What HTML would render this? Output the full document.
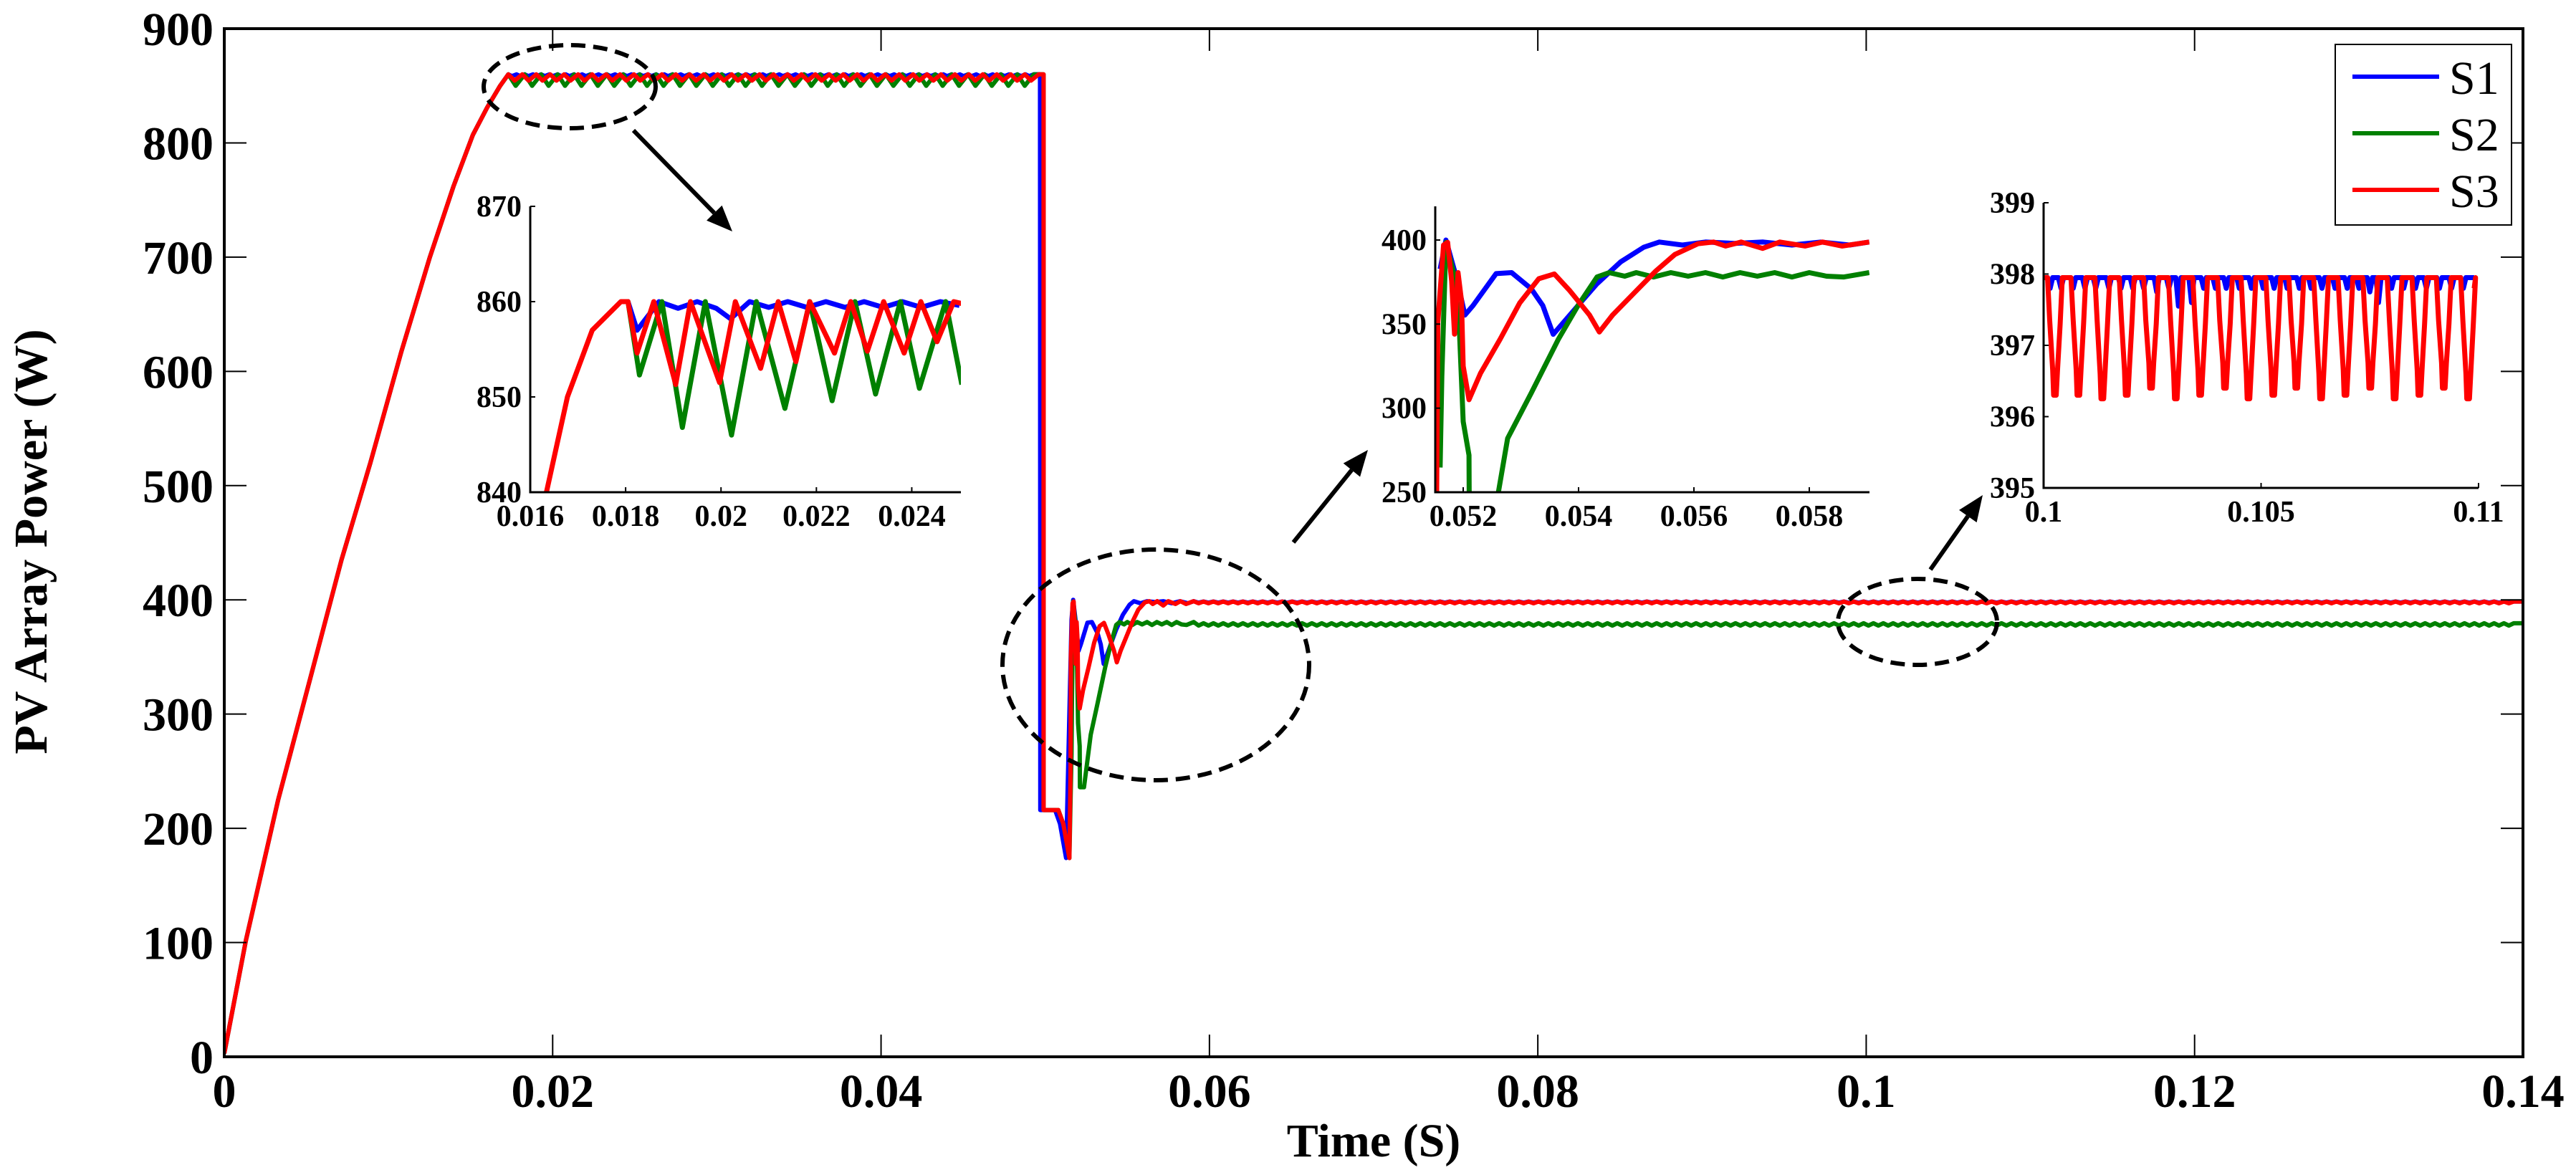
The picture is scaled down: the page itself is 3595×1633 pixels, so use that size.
<!DOCTYPE html>
<html><head><meta charset="utf-8">
<style>
html,body{margin:0;padding:0;background:#fff;}
svg{display:block;}
text{font-family:"Liberation Serif","DejaVu Serif",serif;font-weight:bold;fill:#000;}
</style></head>
<body>
<svg id="chart" width="3595" height="1633" viewBox="0 0 3595 1633" xmlns="http://www.w3.org/2000/svg">
<defs>
<clipPath id="clipMain"><rect x="313" y="40" width="3208" height="1435"/></clipPath>
<clipPath id="clipI1"><rect x="740" y="283" width="601" height="404"/></clipPath>
<clipPath id="clipI2"><rect x="2003" y="283" width="606" height="404"/></clipPath>
<clipPath id="clipI3"><rect x="2852" y="280" width="608" height="403"/></clipPath>
</defs>
<g id="root"></g>
</svg>
<script>
// ---------- DATA ----------
const mainXTicks = [0, 0.02, 0.04, 0.06, 0.08, 0.1, 0.12, 0.14];
const mainXTickLabels = ["0", "0.02", "0.04", "0.06", "0.08", "0.1", "0.12", "0.14"];
const mainYTicks = [0, 100, 200, 300, 400, 500, 600, 700, 800, 900];
const mainYTickLabels = ["0", "100", "200", "300", "400", "500", "600", "700", "800", "900"];
const seriesNames = ["S1", "S2", "S3"];
const seriesColors = ["#0000ff", "#008000", "#ff0000"];

// start-up ramp (shared by all series)
const rampT = [0, 0.00132, 0.00328, 0.00525, 0.00714, 0.0089, 0.01078, 0.01252, 0.01396, 0.01514, 0.01601, 0.0168, 0.0173];
const rampP = [3, 102, 225, 332, 435, 520, 617, 700, 762, 807, 831, 850, 860];
// plateau MPPT ripple: level, dip minimum, dip period (s)
const plateauLevel = [860, 860, 860];
const plateauDip = [858.5, 850, 854.5];
const plateauPeriod = [0.0005, 0.001, 0.00085];
const plateauEnd = [0.04968, 0.0499, 0.0499];
// fault transient after step (main view)
const faultT = [0.0499, 0.0508, 0.0511, 0.05147];
const faultP = [216, 216, 204, 174];
// steady state level
const steadyLevel = [398.5, 379.5, 398.5];
const steadyDip = [397.5, 377.5, 397];

// inset 1 (0.016-0.025, 840-870)
const in1XTicks = [0.016, 0.018, 0.02, 0.022, 0.024];
const in1XTickLabels = ["0.016", "0.018", "0.02", "0.022", "0.024"];
const in1YTicks = [840, 850, 860, 870];
const in1YTickLabels = ["840", "850", "860", "870"];
const in1RedT = [0.01634, 0.01678, 0.0173, 0.0179, 0.01805, 0.01824, 0.01859, 0.01905, 0.01936, 0.01997, 0.0203, 0.02083, 0.0212, 0.02157, 0.02186, 0.02238, 0.02272, 0.02307, 0.02341, 0.02384, 0.02419, 0.02453, 0.02488, 0.02505];
const in1RedP = [840, 850, 857, 860, 860, 854.6, 860, 851.3, 860, 851.5, 860, 853, 860, 853.7, 860, 854.6, 860, 854.8, 860, 854.6, 860, 855.8, 860, 859.8];
const in1GreenT = [0.0179, 0.01805, 0.01829, 0.01876, 0.01919, 0.01967, 0.02022, 0.02074, 0.02134, 0.02186, 0.02233, 0.02281, 0.02324, 0.02376, 0.02416, 0.02471, 0.02505];
const in1GreenP = [860, 860, 852.3, 860, 846.8, 860, 846, 860, 848.8, 860, 849.6, 860, 850.3, 860, 850.9, 860, 851.3];
const in1BlueT = [0.0179, 0.01805, 0.01824, 0.0187, 0.0191, 0.0195, 0.0199, 0.0202, 0.0206, 0.021, 0.0214, 0.0218, 0.0222, 0.0226, 0.023, 0.0234, 0.0238, 0.0242, 0.0246, 0.025];
const in1BlueP = [860, 860, 857, 860, 859.3, 860, 859.3, 858.2, 860, 859.4, 860, 859.4, 860, 859.4, 860, 859.4, 860, 859.4, 860, 859.6];

// inset 2 (0.0515-0.059, 250-420)
const in2XTicks = [0.052, 0.054, 0.056, 0.058];
const in2XTickLabels = ["0.052", "0.054", "0.056", "0.058"];
const in2YTicks = [250, 300, 350, 400];
const in2YTickLabels = ["250", "300", "350", "400"];
const in2BlueT = [0.0516, 0.0517, 0.0519, 0.05203, 0.05217, 0.05257, 0.05284, 0.05318, 0.05338, 0.05356, 0.05399, 0.05432, 0.05473, 0.05513, 0.0554, 0.0558, 0.0562, 0.0567, 0.0572, 0.0577, 0.0582, 0.0587, 0.05904];
const in2BlueP = [382.7, 400, 375.5, 355.4, 361, 380, 380.6, 371, 361, 343.9, 361, 374, 387, 395.7, 398.8, 397, 398.8, 398, 398.8, 397, 398.8, 397, 398.8];
const in2RedT = [0.05154, 0.05156, 0.05166, 0.05173, 0.0518, 0.05185, 0.05191, 0.05197, 0.052, 0.0521, 0.0523, 0.05264, 0.05298, 0.05331, 0.05358, 0.05385, 0.05419, 0.05436, 0.05459, 0.055, 0.05533, 0.05567, 0.05607, 0.05634, 0.05655, 0.05682, 0.05719, 0.05749, 0.05793, 0.05823, 0.05857, 0.05904];
const in2RedP = [250, 351, 397, 398.6, 375.5, 344, 380.6, 364, 325, 305, 320.8, 341, 362.6, 377, 379.8, 369.8, 355.4, 345.3, 355.4, 369.8, 381.3, 391.4, 397.8, 398.8, 396.4, 398.8, 395, 398.8, 396.4, 398.8, 396.4, 398.8];
const in2GreenT = [0.0516, 0.05163, 0.0517, 0.05183, 0.05193, 0.052, 0.0521, 0.05211, 0.05236, 0.05277, 0.05318, 0.05365, 0.05399, 0.05432, 0.05453, 0.0548, 0.055, 0.0553, 0.0556, 0.0559, 0.0562, 0.0565, 0.0568, 0.0571, 0.0574, 0.0577, 0.058, 0.0583, 0.0586, 0.05904];
const in2GreenP = [264.7, 319, 398.6, 381, 349.6, 292, 272, 200, 200, 282, 309, 341, 361, 378, 380.6, 378.5, 380.6, 378, 380.6, 378.5, 380.6, 378, 380.6, 378.5, 380.6, 378, 380.6, 378.5, 378, 380.6];

// inset 3 (0.1-0.11, 395-399)
const in3XTicks = [0.1, 0.105, 0.11];
const in3XTickLabels = ["0.1", "0.105", "0.11"];
const in3YTicks = [395, 396, 397, 398, 399];
const in3YTickLabels = ["395", "396", "397", "398", "399"];
const in3RedDipT = [0.10026, 0.1008, 0.10135, 0.10191, 0.10247, 0.10304, 0.1036, 0.10417, 0.10471, 0.10528, 0.10581, 0.10638, 0.10694, 0.10751, 0.10807, 0.10864, 0.1092, 0.10976];
const in3RedDipP = [396.3, 396.3, 396.25, 396.3, 396.4, 396.25, 396.3, 396.4, 396.25, 396.3, 396.4, 396.25, 396.3, 396.4, 396.25, 396.3, 396.4, 396.25];
const in3BlueDipT = [0.10015, 0.1004, 0.10068, 0.10095, 0.1012, 0.1015, 0.10178, 0.10205, 0.1023, 0.1026, 0.10288, 0.1031, 0.1034, 0.10368, 0.10395, 0.1042, 0.1045, 0.10478, 0.10505, 0.1053, 0.1056, 0.10588, 0.10615, 0.1064, 0.1067, 0.10698, 0.10725, 0.1075, 0.1077, 0.108, 0.10828, 0.10855, 0.1088, 0.1091, 0.10938, 0.10965];
const in3BlueDipP = [397.8, 397.8, 397.8, 397.8, 397.8, 397.8, 397.8, 397.8, 397.8, 397.75, 397.8, 397.55, 397.6, 397.8, 397.8, 397.8, 397.8, 397.8, 397.8, 397.8, 397.8, 397.8, 397.8, 397.8, 397.8, 397.8, 397.8, 397.75, 397.6, 397.8, 397.8, 397.8, 397.8, 397.8, 397.8, 397.8];

// ---------- HELPERS ----------
const NS = "http://www.w3.org/2000/svg";
const root = document.getElementById("root");
function mk(tag, attrs, parent) {
  const e = document.createElementNS(NS, tag);
  for (const k in attrs) e.setAttribute(k, attrs[k]);
  (parent || root).appendChild(e);
  return e;
}
function lin(d0, d1, r0, r1) { return v => r0 + (v - d0) / (d1 - d0) * (r1 - r0); }

// main axes
const mx = lin(0, 0.14, 313, 3521);
const my = lin(0, 900, 1475, 40);
// inset axes
const i1x = lin(0.016, 0.025, 740, 1339), i1y = lin(840, 870, 687, 288);
const i2x = lin(0.052, 0.058, 2042, 2525), i2y = lin(250, 400, 687, 335);
const i3x = lin(0.1, 0.11, 2852, 3459), i3y = lin(395, 399, 681, 283);

function pathFrom(ts, ps, sx, sy) {
  let d = "";
  for (let i = 0; i < ts.length; i++) d += (i ? "L" : "M") + sx(ts[i]).toFixed(1) + "," + sy(ps[i]).toFixed(1);
  return d;
}

// ---------- MAIN SERIES ----------
const gMain = mk("g", {"clip-path": "url(#clipMain)"});


const transientT = [in2BlueT, in2GreenT, in2RedT];
const transientP = [in2BlueP, in2GreenP, in2RedP];
for (let s = 0; s < 3; s++) {
  let T = rampT.slice(), P = rampP.slice();
  // plateau ripple
  let t = rampT[rampT.length - 1];
  const per = plateauPeriod[s];
  while (t + per < plateauEnd[s]) {
    T.push(t + per * 0.45); P.push(plateauDip[s]);
    T.push(t + per); P.push(plateauLevel[s]);
    t += per;
  }
  T.push(plateauEnd[s]); P.push(plateauLevel[s]);
  for (let i = 0; i < faultT.length; i++) { T.push(faultT[i] + (s === 0 ? -0.0002 : 0)); P.push(faultP[i]); }
  const tt = transientT[s], tp = transientP[s];
  for (let i = 0; i < tt.length; i++) { T.push(tt[i]); P.push(Math.max(tp[i], s === 1 && i > 5 && i < 10 ? 236 : tp[i])); }
  // steady state
  let ts = tt[tt.length - 1];
  const sp = 0.0006;
  while (ts + sp < 0.14) {
    T.push(ts + sp * 0.5); P.push(steadyDip[s]);
    T.push(ts + sp); P.push(steadyLevel[s]);
    ts += sp;
  }
  T.push(0.14); P.push(steadyLevel[s]);
  const p = mk("path", {d: pathFrom(T, P, mx, my), fill: "none", stroke: seriesColors[s], "stroke-width": 6, "stroke-linejoin": "round"}, gMain);
  
  
}

// ---------- MAIN AXES ----------
const frame = mk("rect", {x: 313, y: 40, width: 3208, height: 1435, fill: "none", stroke: "#000", "stroke-width": 4});


for (let i = 0; i < mainXTicks.length; i++) {
  const x = mx(mainXTicks[i]);
  const tk = mk("path", {d: `M${x},1475V1444M${x},40V71`, stroke: "#000", "stroke-width": 2});
  
  
  const lb = mk("text", {x: x, y: 1545, "font-size": 66, "text-anchor": "middle"});
  
  
  lb.textContent = mainXTickLabels[i];
}
for (let i = 0; i < mainYTicks.length; i++) {
  const y = my(mainYTicks[i]);
  const tk = mk("path", {d: `M313,${y}H344M3521,${y}H3490`, stroke: "#000", "stroke-width": 2});
  
  
  const lb = mk("text", {x: 298, y: y + 23, "font-size": 66, "text-anchor": "end"});
  
  
  lb.textContent = mainYTickLabels[i];
}
const xt = mk("text", {x: 1917, y: 1614, "font-size": 66, "text-anchor": "middle"});


xt.textContent = "Time (S)";
const yt = mk("text", {x: 0, y: 0, "font-size": 66, "text-anchor": "middle", transform: "translate(65,756) rotate(-90)"});


yt.textContent = "PV Array Power (W)";

// ---------- INSETS ----------
function inset(name, clip, sx, sy, x0, x1, y0, y1, xTicks, xLabels, yTicks, yLabels, lines) {
  const g = mk("g", {});
  
  
  const bg = mk("rect", {x: x0, y: y1, width: x1 - x0, height: y0 - y1, fill: "#fff"}, g);
  
  
  const lg = mk("g", {"clip-path": "url(#" + clip + ")"}, g);
  for (const L of lines) {
    const p = mk("path", {d: pathFrom(L.t, L.p, sx, sy), fill: "none", stroke: L.c, "stroke-width": 7, "stroke-linejoin": "round"}, lg);
    
    
  }
  const ax = mk("path", {d: `M${x0},${y1}V${y0}H${x1}`, fill: "none", stroke: "#000", "stroke-width": 3}, g);
  
  
  for (let i = 0; i < xTicks.length; i++) {
    const x = sx(xTicks[i]);
    const tk = mk("path", {d: `M${x},${y0}V${y0 - 7}`, stroke: "#000", "stroke-width": 2}, g);
    
    
    const lb = mk("text", {x: x, y: y0 + 47, "font-size": 42, "text-anchor": "middle"}, g);
    
    
    lb.textContent = xLabels[i];
  }
  for (let i = 0; i < yTicks.length; i++) {
    const y = sy(yTicks[i]);
    const tk = mk("path", {d: `M${x0},${y}H${x0 + 7}`, stroke: "#000", "stroke-width": 2}, g);
    
    
    const lb = mk("text", {x: x0 - 12, y: y + 14, "font-size": 42, "text-anchor": "end"}, g);
    
    
    lb.textContent = yLabels[i];
  }
}
inset("inset-startup", "clipI1", i1x, i1y, 740, 1341, 687, 288, in1XTicks, in1XTickLabels, in1YTicks, in1YTickLabels, [
  {n: "s1", c: seriesColors[0], t: in1BlueT, p: in1BlueP},
  {n: "s2", c: seriesColors[1], t: in1GreenT, p: in1GreenP},
  {n: "s3", c: seriesColors[2], t: in1RedT, p: in1RedP}]);
inset("inset-transient", "clipI2", i2x, i2y, 2003, 2609, 687, 288, in2XTicks, in2XTickLabels, in2YTicks, in2YTickLabels, [
  {n: "s1", c: seriesColors[0], t: in2BlueT, p: in2BlueP},
  {n: "s2", c: seriesColors[1], t: in2GreenT, p: in2GreenP},
  {n: "s3", c: seriesColors[2], t: in2RedT, p: in2RedP}]);
// inset 3 lines from dip arrays
const b3T = [0.1], b3P = [397.95];
for (let i = 0; i < in3BlueDipT.length; i++) {
  b3T.push(in3BlueDipT[i] - 0.00006, in3BlueDipT[i], in3BlueDipT[i] + 0.00006);
  b3P.push(397.95, in3BlueDipP[i], 397.95);
}
b3T.push(0.1099); b3P.push(397.95);
const r3T = [0.1], r3P = [397.95];
for (let i = 0; i < in3RedDipT.length; i++) {
  const c = in3RedDipT[i], v = in3RedDipP[i];
  r3T.push(c - 0.00017, c - 0.00012, c - 0.00005, c - 0.00003, c + 0.00003, c + 0.00006, c + 0.00012, c + 0.00017);
  r3P.push(397.95, 397.35, v + 0.35, v, v, v + 0.35, 397.3, 397.95);
}
r3T.push(0.1099); r3P.push(397.8);
inset("inset-steady", "clipI3", i3x, i3y, 2852, 3459, 681, 283, in3XTicks, in3XTickLabels, in3YTicks, in3YTickLabels, [
  {n: "s1", c: seriesColors[0], t: b3T, p: b3P},
  {n: "s3", c: seriesColors[2], t: r3T, p: r3P}]);

// ---------- ANNOTATIONS ----------
const ells = [[795, 121, 120, 58, "zoom-ellipse-startup"], [1613, 928, 214, 161, "zoom-ellipse-transient"], [2676, 868, 111, 60, "zoom-ellipse-steady"]];
for (const e of ells) {
  const el = mk("ellipse", {cx: e[0], cy: e[1], rx: e[2], ry: e[3], fill: "none", stroke: "#000", "stroke-width": 6, "stroke-dasharray": "20 11"});
  
  
}
const arrows = [[884, 182, 1022, 323, "arrow-startup"], [1805, 757, 1909, 628, "arrow-transient"], [2694, 795, 2767, 691, "arrow-steady"]];
for (const a of arrows) {
  const [x1, y1, x2, y2] = a;
  const ang = Math.atan2(y2 - y1, x2 - x1), L = 36, W = 15;
  const bx = x2 - L * Math.cos(ang), by = y2 - L * Math.sin(ang);
  const g = mk("g", {});
  
  
  mk("line", {x1: x1, y1: y1, x2: bx, y2: by, stroke: "#000", "stroke-width": 6}, g);
  mk("polygon", {points: `${x2},${y2} ${bx - W * Math.sin(ang)},${by + W * Math.cos(ang)} ${bx + W * Math.sin(ang)},${by - W * Math.cos(ang)}`, fill: "#000"}, g);
}

// ---------- LEGEND ----------
const lg = mk("g", {});


const lbox = mk("rect", {x: 3259, y: 62, width: 246, height: 252, fill: "#fff", stroke: "#000", "stroke-width": 2}, lg);


const legY = [107, 186, 265];
for (let s = 0; s < 3; s++) {
  const ln = mk("line", {x1: 3283, y1: legY[s], x2: 3404, y2: legY[s], stroke: seriesColors[s], "stroke-width": 6}, lg);
  
  
  const tx = mk("text", {x: 3418, y: legY[s] + 24, "font-size": 66, "font-weight": "normal"}, lg);
  
  
  tx.style.fontWeight = "normal";
  tx.textContent = seriesNames[s];
}
</script>
</body></html>
